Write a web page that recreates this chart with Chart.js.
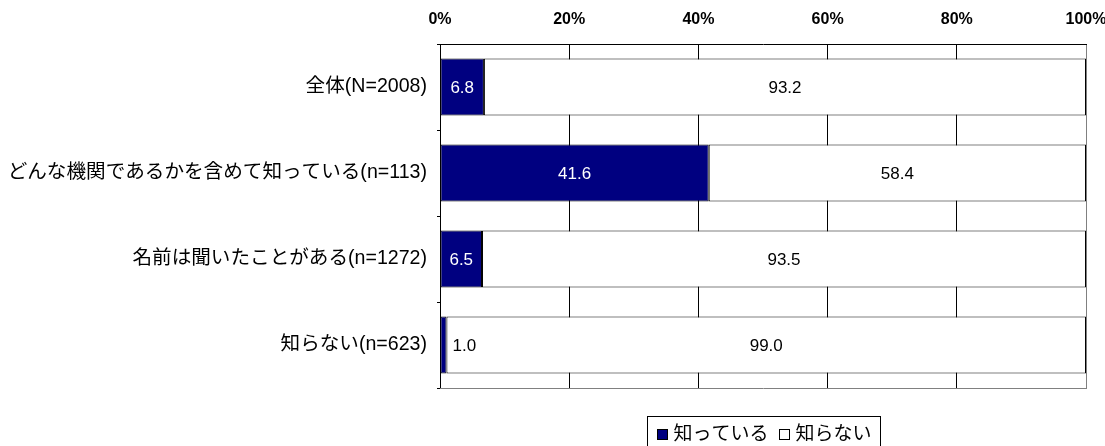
<!DOCTYPE html>
<html lang="ja">
<head>
<meta charset="utf-8">
<title>認知度</title>
<script src="https://cdn.jsdelivr.net/npm/chart.js@4"></script>
<style>
  html, body { margin: 0; padding: 0; background: #fff; }
  #wrap { width: 1105px; height: 446px; position: relative; }
</style>
</head>
<body>
<div id="wrap"><canvas id="c" width="1105" height="446"></canvas></div>
<script>
// 回答区分
const categories = [
  '全体(N=2008)',
  'どんな機関であるかを含めて知っている(n=113)',
  '名前は聞いたことがある(n=1272)',
  '知らない(n=623)'
];
// 系列 (%)
const seriesNames = ['知っている', '知らない'];
const knownValues = [6.8, 41.6, 6.5, 1.0];
const unknownValues = [93.2, 58.4, 93.5, 99.0];
// 目盛
const tickValues = [0, 20, 40, 60, 80, 100];

const FONT = '"Liberation Sans", "Noto Sans CJK JP", sans-serif';
const NAVY = '#000080';

// 各セグメントの数値ラベル
const valueLabels = {
  id: 'valueLabels',
  afterDatasetsDraw(chart) {
    const ctx = chart.ctx;
    ctx.save();
    ctx.font = '17px ' + FONT;
    ctx.textBaseline = 'middle';
    chart.data.datasets.forEach((ds, di) => {
      const meta = chart.getDatasetMeta(di);
      meta.data.forEach((bar, i) => {
        const v = ds.data[i];
        const text = v.toFixed(1);
        const left = Math.min(bar.base, bar.x);
        const right = Math.max(bar.base, bar.x);
        const w = ctx.measureText(text).width;
        ctx.fillStyle = di === 0 ? '#fff' : '#000';
        if (right - left < w + 6) {
          ctx.fillStyle = '#000';
          ctx.textAlign = 'left';
          ctx.fillText(text, right + 6, bar.y + 1);
        } else {
          ctx.textAlign = 'center';
          ctx.fillText(text, (left + right) / 2, bar.y + 1);
        }
      });
    });
    ctx.restore();
  }
};

// 枠線と凡例
const frameAndLegend = {
  id: 'frameAndLegend',
  afterDraw(chart) {
    const ctx = chart.ctx;
    const a = chart.chartArea;
    ctx.save();
    // 下辺
    ctx.strokeStyle = '#808080';
    ctx.lineWidth = 1;
    ctx.beginPath();
    ctx.moveTo(a.left, a.bottom + 0.5);
    ctx.lineTo(a.right + 1, a.bottom + 0.5);
    ctx.stroke();

    // 凡例
    ctx.font = '19px ' + FONT;
    ctx.textBaseline = 'middle';
    const box = 11, gap = 6, itemGap = 10, pad = 9;
    const items = chart.data.datasets.map(ds => ({
      label: ds.label, fill: ds.backgroundColor,
      w: box + gap + ctx.measureText(ds.label).width
    }));
    const total = items.reduce((s, it) => s + it.w, 0) + itemGap * (items.length - 1);
    const lw = Math.round(total + pad * 2);
    const cx = (a.left + a.right) / 2;
    const lx = Math.round(cx - lw / 2) + 0.5;
    const ly = 416.5;
    ctx.fillStyle = '#fff';
    ctx.fillRect(lx, ly, lw, 40);
    ctx.strokeStyle = '#000';
    ctx.strokeRect(lx, ly, lw, 40);
    let x = lx + pad;
    const y = 434;
    items.forEach(it => {
      ctx.fillStyle = it.fill;
      ctx.fillRect(Math.round(x), Math.round(y - box / 2), box, box);
      ctx.strokeStyle = '#000';
      ctx.strokeRect(Math.round(x) + 0.5, Math.round(y - box / 2) + 0.5, box - 1, box - 1);
      ctx.fillStyle = '#000';
      ctx.textAlign = 'left';
      ctx.fillText(it.label, x + box + gap, y + 1);
      x += it.w + itemGap;
    });
    ctx.restore();
  }
};

new Chart(document.getElementById('c'), {
  type: 'bar',
  data: {
    labels: categories,
    datasets: [
      { label: seriesNames[0], data: knownValues, backgroundColor: NAVY,
        borderColor: '#000', borderWidth: 1, borderSkipped: false },
      { label: seriesNames[1], data: unknownValues, backgroundColor: '#fff',
        borderColor: '#000', borderWidth: 1, borderSkipped: false }
    ]
  },
  options: {
    indexAxis: 'y',
    responsive: false,
    animation: false,
    devicePixelRatio: 1,
    layout: { padding: { top: 0, left: 0, right: 19, bottom: 58 } },
    datasets: { bar: { categoryPercentage: 1, barPercentage: 0.66 } },
    plugins: { legend: { display: false }, tooltip: { enabled: false } },
    scales: {
      x: {
        position: 'top',
        stacked: true,
        min: 0, max: 100,
        afterBuildTicks(scale) { scale.ticks = tickValues.map(v => ({ value: v })); },
        afterFit(scale) {
          scale.height = 44;
          scale.paddingLeft = 0;
          scale.paddingRight = 0;
        },
        ticks: {
          callback: v => v + '%',
          color: '#000',
          padding: 15,
          font: { family: FONT, size: 16, weight: 'bold' },
          maxRotation: 0
        },
        grid: {
          color: ctx => (ctx.tick && ctx.tick.value === 100) ? '#808080' : '#000',
          lineWidth: 1,
          drawTicks: false
        },
        border: { display: true, color: '#000', width: 1 }
      },
      y: {
        stacked: true,
        afterFit(scale) { scale.width = 440; },
        ticks: {
          color: '#000',
          padding: 10,
          font: { family: FONT, size: 19.6 }
        },
        grid: {
          drawOnChartArea: false,
          drawTicks: true,
          tickLength: 3,
          color: '#000'
        },
        border: { display: true, color: '#000', width: 1 }
      }
    }
  },
  plugins: [valueLabels, frameAndLegend]
});
</script>
</body>
</html>
